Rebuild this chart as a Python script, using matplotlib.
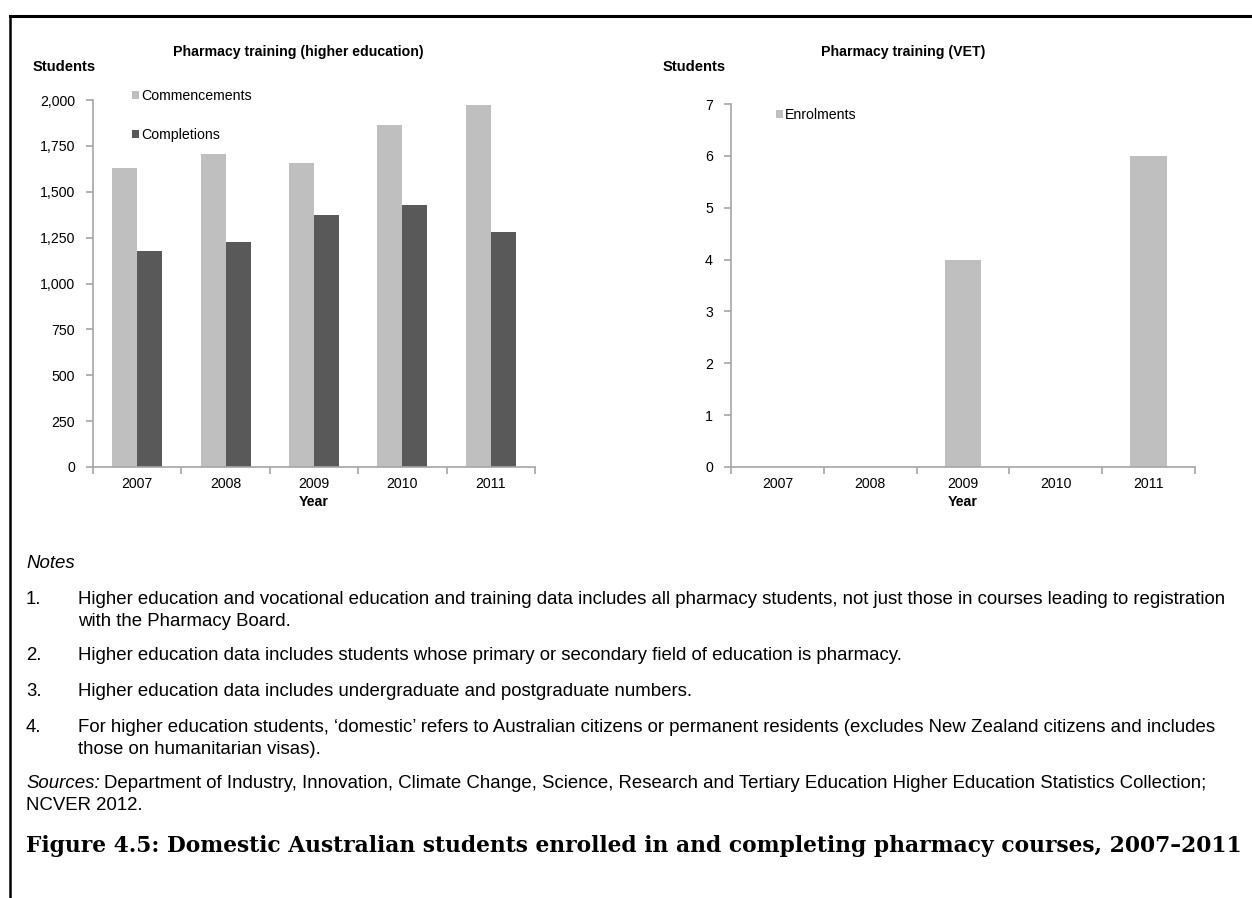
import numpy as np
import matplotlib.pyplot as plt
from matplotlib.lines import Line2D

plt.rcParams["font.family"] = ["Liberation Sans", "DejaVu Sans"]

years = ["2007", "2008", "2009", "2010", "2011"]
commencements = [1628, 1706, 1658, 1862, 1973]
completions = [1179, 1226, 1371, 1428, 1281]
vet_enrolments = [0, 0, 4, 0, 6]

light = "#BFBFBF"
dark = "#595959"
axis_col = "#A6A6A6"
cfs = 10.2  # chart font size

W, H = 1252, 898
fig = plt.figure(figsize=(W / 100, H / 100), dpi=100)


def px_axes(x0, y0, x1, y1):
    return fig.add_axes([x0 / W, 1 - y1 / H, (x1 - x0) / W, (y1 - y0) / H])


def style(ax, n):
    for s in ["top", "right"]:
        ax.spines[s].set_visible(False)
    for s in ["left", "bottom"]:
        ax.spines[s].set_color(axis_col)
        ax.spines[s].set_linewidth(1.2)
    ax.set_xlim(-0.5, n - 0.5)
    ax.set_xticks(np.arange(n))
    ax.set_xticklabels(years, fontsize=cfs)
    ax.set_xticks(np.arange(n + 1) - 0.5, minor=True)
    ax.tick_params(axis="x", which="major", length=0, pad=7)
    ax.tick_params(axis="x", which="minor", length=5, color=axis_col, width=1.2)
    ax.tick_params(axis="y", length=5, color=axis_col, width=1.2, labelsize=cfs, pad=8)
    ax.set_xlabel("Year", fontsize=cfs, fontweight="bold", labelpad=3)


x = np.arange(len(years))

# left chart
ax1 = px_axes(93, 100, 535, 467)
w = 0.283
ax1.bar(x - w / 2, commencements, w, color=light, label="Commencements")
ax1.bar(x + w / 2, completions, w, color=dark, label="Completions")
ax1.set_ylim(0, 2000)
ax1.set_yticks(np.arange(0, 2001, 250))
ax1.set_yticklabels([f"{v:,}" for v in range(0, 2001, 250)])
style(ax1, len(years))
ax1.legend(loc="upper left", bbox_to_anchor=(0.075, 1.045), frameon=False, fontsize=cfs,
           handlelength=0.5, handleheight=0.5, handletextpad=0.15, labelspacing=1.75,
           borderaxespad=0)
fig.text(298 / W, 1 - 52 / H, "Pharmacy training (higher education)", ha="center", va="center",
         fontsize=cfs, fontweight="bold")
fig.text(33 / W, 1 - 67 / H, "Students", ha="left", va="center", fontsize=10.6, fontweight="bold")

# right chart
ax2 = px_axes(731, 104, 1195, 467)
ax2.bar(x, vet_enrolments, 0.395, color=light, label="Enrolments")
ax2.set_ylim(0, 7)
ax2.set_yticks(range(0, 8))
style(ax2, len(years))
ax2.legend(loc="upper left", bbox_to_anchor=(0.085, 1.005), frameon=False, fontsize=cfs,
           handlelength=0.5, handleheight=0.5, handletextpad=0.15, borderaxespad=0)
fig.text(903 / W, 1 - 52 / H, "Pharmacy training (VET)", ha="center", va="center",
         fontsize=cfs, fontweight="bold")
fig.text(663 / W, 1 - 67 / H, "Students", ha="left", va="center", fontsize=10.6, fontweight="bold")

# frame lines
fig.add_artist(Line2D([10 / W, 1], [1 - 16 / H, 1 - 16 / H], color="black", lw=2.2))
fig.add_artist(Line2D([10 / W, 10 / W], [1 - 16 / H, 0], color="black", lw=1.8))

# notes
fs = 13.4
fig.text(26 / W, 1 - 563 / H, "Notes", fontsize=fs, style="italic", va="center")
notes = [
    (599, "1.", "Higher education and vocational education and training data includes all pharmacy students, not just those in courses leading to registration"),
    (621, "", "with the Pharmacy Board."),
    (656, "2.", "Higher education data includes students whose primary or secondary field of education is pharmacy."),
    (692, "3.", "Higher education data includes undergraduate and postgraduate numbers."),
    (728, "4.", "For higher education students, \u2018domestic\u2019 refers to Australian citizens or permanent residents (excludes New Zealand citizens and includes"),
    (750, "", "those on humanitarian visas)."),
]
for y, num, txt in notes:
    if num:
        fig.text(26 / W, 1 - y / H, num, fontsize=fs, va="center")
    fig.text(78 / W, 1 - y / H, txt, fontsize=fs, va="center")

src = fig.text(26 / W, 1 - 784 / H, "Sources:", fontsize=fs, style="italic", va="center")
r = fig.canvas.get_renderer()
x_end = src.get_window_extent(r).x1
fig.text((x_end + 4) / W, 1 - 784 / H,
         "Department of Industry, Innovation, Climate Change, Science, Research and Tertiary Education Higher Education Statistics Collection;",
         fontsize=fs, va="center")
fig.text(26 / W, 1 - 806 / H, "NCVER 2012.", fontsize=fs, va="center")

cap = fig.text(26 / W, 1 - 846 / H,
               "Figure 4.5: Domestic Australian students enrolled in and completing pharmacy courses, 2007\u20132011",
               fontsize=16, fontweight="bold", family=["DejaVu Serif"], va="center")
cw = cap.get_window_extent(r).width
cap.set_fontsize(16 * 1212 / cw)

fig.savefig("out.png", dpi=100)
